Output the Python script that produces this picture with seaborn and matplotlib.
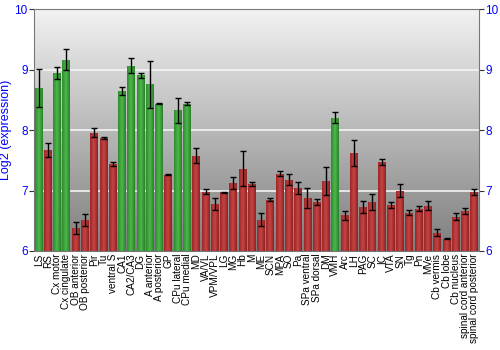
import numpy as np
import pandas as pd
import matplotlib
matplotlib.use("Agg")
import matplotlib.pyplot as plt
import seaborn as sns
from matplotlib.colors import LinearSegmentedColormap

regions = ["LS", "RS", "Cx motor", "Cx cingulate", "OB anterior", "OB posterior", "Pir", "Tu",
           "ventral S", "CA1", "CA2/CA3", "DG", "A anterior", "A posterior", "GP", "CPu lateral",
           "CPu medial", "MD", "VA/VL", "VPM/VPL", "LG", "MG", "Hb", "M", "ME", "SCN", "MPA", "SO",
           "Pa", "SPa ventral", "SPa dorsal", "DM", "VMH", "Arc", "LH", "PAG", "SC", "IC", "VTA",
           "SN", "Tg", "Pn", "MVe", "Cb vermis", "Cb lobe", "Cb nucleus", "spinal cord anterior",
           "spinal cord posterior"]
expression = [8.70, 7.67, 8.94, 9.17, 6.38, 6.52, 7.96, 7.87,
              7.44, 8.65, 9.07, 8.91, 8.76, 8.44, 7.26, 8.33,
              8.44, 7.58, 6.98, 6.77, 6.97, 7.13, 7.36, 7.11, 6.52, 6.85, 7.28, 7.18,
              7.05, 6.88, 6.81, 7.16, 8.21, 6.59, 7.62, 6.73, 6.81, 7.47, 6.76,
              7.00, 6.63, 6.70, 6.75, 6.30, 6.20, 6.57, 6.66, 6.98]
error = [0.31, 0.11, 0.10, 0.18, 0.10, 0.10, 0.08, 0.01,
         0.04, 0.06, 0.12, 0.04, 0.39, 0.01, 0.01, 0.21,
         0.03, 0.13, 0.04, 0.10, 0.01, 0.10, 0.29, 0.04, 0.11, 0.03, 0.04, 0.09,
         0.10, 0.17, 0.05, 0.23, 0.09, 0.07, 0.22, 0.10, 0.13, 0.05, 0.05,
         0.11, 0.04, 0.04, 0.07, 0.06, 0.01, 0.06, 0.05, 0.05]
green_regions = ["LS", "Cx motor", "Cx cingulate", "CA1", "CA2/CA3", "DG", "A anterior",
                 "A posterior", "CPu lateral", "CPu medial", "VMH"]
y_ticks = [6, 7, 8, 9, 10]

df = pd.DataFrame({"region": regions, "expr": expression, "err": error})
df["group"] = np.where(df["region"].isin(green_regions), "high", "low")

sns.set_theme(style="white")
plt.rcParams["font.family"] = ["Liberation Sans", "DejaVu Sans"]

fig = plt.figure(figsize=(5, 3.5), dpi=100)
ax = fig.add_axes([0.068, 0.283, 0.89, 0.690])

ymin, ymax = y_ticks[0], y_ticks[-1]
n = len(regions)

# background vertical gradient (light at top, darker at bottom)
bg = np.linspace(0, 1, 256).reshape(-1, 1)
bgcmap = LinearSegmentedColormap.from_list("bg", ["#f2f2f2", "#7e7e7e"])
ax.imshow(bg, extent=[-0.5, n - 0.5, ymin, ymax], origin="upper", aspect="auto",
          cmap=bgcmap, zorder=0, interpolation="bilinear")

for v in y_ticks[1:-1]:
    ax.axhline(v, color="#f4f4f4", lw=1.2, zorder=1)

pal = {"high": "#3a9e3a", "low": "#b23232"}
sns.barplot(data=df, x="region", y="expr", hue="group", palette=pal, dodge=False,
            errorbar=None, width=0.86, ax=ax, legend=False, zorder=2, linewidth=0)

# horizontal gradient shading on bars
grad = np.linspace(0, 1, 64).reshape(1, -1)
green_cmap = LinearSegmentedColormap.from_list("g", ["#2f8a2f", "#4cb84c", "#2b7f2b"])
red_cmap = LinearSegmentedColormap.from_list("r", ["#9c2626", "#c84444", "#8c2222"])
for p in list(ax.patches):
    h = p.get_height()
    if h <= ymin:
        continue
    x0 = p.get_x(); w = p.get_width()
    fc = p.get_facecolor()
    cm = green_cmap if fc[1] > fc[0] else red_cmap
    im = ax.imshow(grad, extent=[x0, x0 + w, ymin, h], aspect="auto", cmap=cm, zorder=2.5,
                   interpolation="bilinear")
    im.set_clip_path(p)

ax.errorbar(np.arange(n), df["expr"], yerr=df["err"], fmt="none",
            ecolor="black", elinewidth=1, capsize=2, capthick=1, zorder=3)

ax.set_xlim(-0.5, n - 0.5)
ax.set_ylim(ymin, ymax)
ax.set_yticks(y_ticks)
ax.tick_params(axis="y", which="both", left=True, right=True, labelleft=True, labelright=True,
               labelsize=8.5, labelcolor="#0000ff", length=3.5, color="#333333", width=0.8, pad=1)
ax.tick_params(axis="x", labelsize=7.2, labelcolor="black", length=0, pad=2)
ax.set_xticks(np.arange(n))
ax.set_xticklabels(regions, rotation=90)
ax.set_xlabel("")
ax.set_ylabel("Log2 (expression)", color="#0000ff", fontsize=9, labelpad=2)
for s in ax.spines.values():
    s.set_color("#777777")
    s.set_linewidth(0.8)

fig.savefig("out.png", dpi=100)
